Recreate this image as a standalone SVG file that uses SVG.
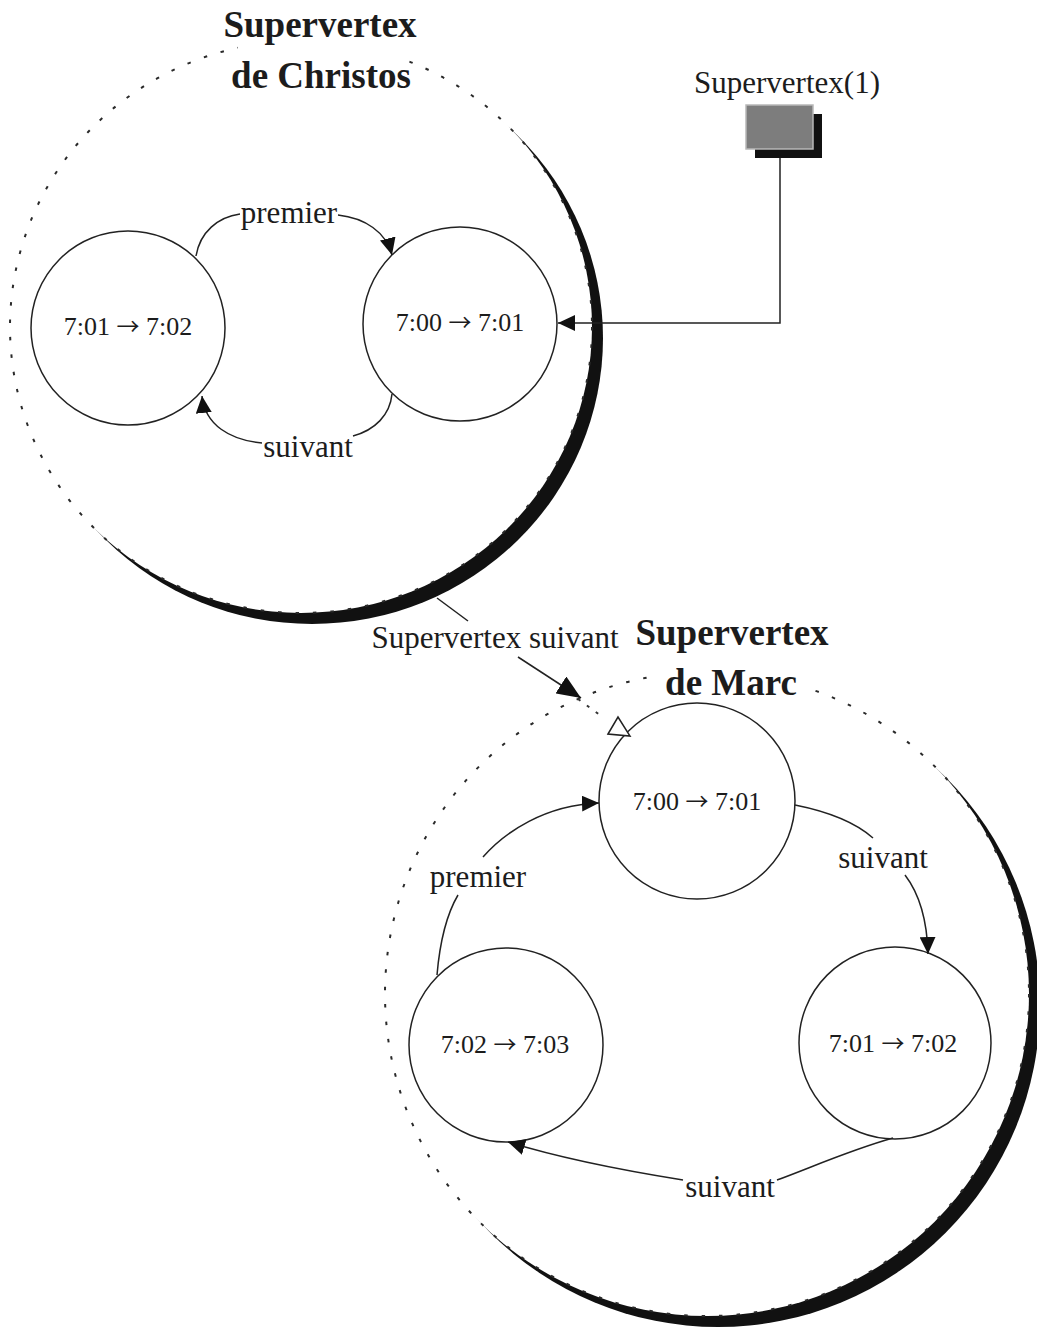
<svg xmlns="http://www.w3.org/2000/svg" width="1037" height="1328" viewBox="0 0 1037 1328">
  <style>
    text { font-family: "Liberation Serif", "Times New Roman", serif; fill: #1c1c1c; }
    .title { font-size: 37px; font-weight: bold; text-anchor: middle; }
    .label { font-size: 31px; }
    .node-text { font-size: 26px; text-anchor: middle; }
    .arr { font-family: "Noto Sans CJK JP", "DejaVu Sans", sans-serif; font-size: 23px; }
    .node { fill: #ffffff; stroke: #222; stroke-width: 1.5; }
    .outline { fill: none; stroke: #2a2a2a; stroke-width: 2; stroke-dasharray: 3.5 14; }
    .shadow { fill: #111; }
    .backdrop { fill: #ffffff; }
    .edge { fill: none; stroke: #222; stroke-width: 1.5; }
    .dotted { fill: none; stroke: #333; stroke-width: 2; stroke-dasharray: 3 8; }
  </style>
  <defs>
    <marker id="arrow" markerUnits="userSpaceOnUse" viewBox="0 0 17 16" refX="17" refY="8" markerWidth="17" markerHeight="16" orient="auto">
      <path d="M0,0 L17,8 L0,16 Z" fill="#111"/>
    </marker>
    <marker id="arrow-big" markerUnits="userSpaceOnUse" viewBox="0 0 24 20" refX="24" refY="10" markerWidth="24" markerHeight="20" orient="auto">
      <path d="M0,0 L24,10 L0,20 Z" fill="#111"/>
    </marker>
  </defs>

  <!-- Supervertex de Christos -->
  <g id="supervertex-christos">
    <ellipse class="shadow" cx="312" cy="338" rx="291" ry="286"/>
    <ellipse class="backdrop" cx="301" cy="327" rx="291" ry="286"/>
    <ellipse class="outline" cx="301" cy="327" rx="291" ry="286"/>
    <rect class="backdrop" x="238" y="36" width="172" height="22"/>
    <text class="title" x="320" y="37">Supervertex</text>
    <text class="title" x="321" y="88">de Christos</text>
  </g>

  <!-- Supervertex de Marc -->
  <g id="supervertex-marc">
    <circle class="shadow" cx="718" cy="1005" r="322"/>
    <circle class="backdrop" cx="707" cy="994" r="322"/>
    <circle class="outline" cx="707" cy="994" r="322"/>
    <rect class="backdrop" x="660" y="664" width="144" height="36"/>
    <text class="title" x="732" y="645">Supervertex</text>
    <text class="title" x="731" y="695">de Marc</text>
  </g>

  <!-- Supervertex(1) handle -->
  <g id="supervertex-1">
    <rect x="755" y="114" width="67" height="44" fill="#111"/>
    <rect x="746" y="105" width="67" height="44" fill="#7d7d7d" stroke="#b8b8b8" stroke-width="1.5"/>
    <text class="label" x="787" y="93" text-anchor="middle">Supervertex(1)</text>
  </g>

  <!-- Nodes of Christos -->
  <g id="christos-0701">
    <circle class="node" cx="128" cy="328" r="97"/>
    <text class="node-text" x="128" y="335">7:01 <tspan class="arr">→</tspan> 7:02</text>
  </g>
  <g id="christos-0700">
    <circle class="node" cx="460" cy="324" r="97"/>
    <text class="node-text" x="460" y="331">7:00 <tspan class="arr">→</tspan> 7:01</text>
  </g>

  <!-- Nodes of Marc -->
  <g id="marc-0700">
    <circle class="node" cx="697" cy="801" r="98"/>
    <text class="node-text" x="697" y="810">7:00 <tspan class="arr">→</tspan> 7:01</text>
  </g>
  <g id="marc-0701">
    <circle class="node" cx="895" cy="1043" r="96"/>
    <text class="node-text" x="893" y="1052">7:01 <tspan class="arr">→</tspan> 7:02</text>
  </g>
  <g id="marc-0702">
    <circle class="node" cx="506" cy="1045" r="97"/>
    <text class="node-text" x="505" y="1053">7:02 <tspan class="arr">→</tspan> 7:03</text>
  </g>

  <!-- Connectors -->
  <g id="connectors">
    <!-- Supervertex(1) -> first vertex of Christos -->
    <path class="edge" d="M780,158 V323 H558" marker-end="url(#arrow)"/>

    <!-- Christos: premier -->
    <path class="edge" d="M196,256 C200,232 218,217 240,214"/>
    <path class="edge" d="M338,215 C365,218 386,232 392,255" marker-end="url(#arrow)"/>
    <text class="label" x="289" y="223" text-anchor="middle">premier</text>

    <!-- Christos: suivant -->
    <path class="edge" d="M392,394 C390,415 375,430 353,436"/>
    <path class="edge" d="M262,443 C230,440 205,425 202,396" marker-end="url(#arrow)"/>
    <text class="label" x="308" y="457" text-anchor="middle">suivant</text>

    <!-- Christos -> Marc: Supervertex suivant -->
    <path class="edge" d="M437,598 L468,621"/>
    <path class="edge" d="M518,657 L581,698" marker-end="url(#arrow-big)"/>
    <text class="label" x="495" y="648" text-anchor="middle">Supervertex suivant</text>
    <path class="dotted" d="M578,699 L604,718"/>
    <polygon points="608,734 618,717 630,736" fill="#ffffff" stroke="#222" stroke-width="1.5"/>

    <!-- Marc: premier -->
    <path class="edge" d="M437,975 C440,940 448,912 458,895"/>
    <path class="edge" d="M483,857 C505,832 545,805 599,803" marker-end="url(#arrow)"/>
    <text class="label" x="478" y="887" text-anchor="middle">premier</text>

    <!-- Marc: suivant (top -> right) -->
    <path class="edge" d="M795,805 C830,812 855,822 873,838"/>
    <path class="edge" d="M905,875 C918,892 927,915 928,954" marker-end="url(#arrow)"/>
    <text class="label" x="883" y="868" text-anchor="middle">suivant</text>

    <!-- Marc: suivant (right -> left) -->
    <path class="edge" d="M893,1138 C850,1150 810,1168 777,1180"/>
    <path class="edge" d="M683,1180 C620,1170 560,1158 508,1142" marker-end="url(#arrow)"/>
    <text class="label" x="730" y="1197" text-anchor="middle">suivant</text>
  </g>
</svg>
